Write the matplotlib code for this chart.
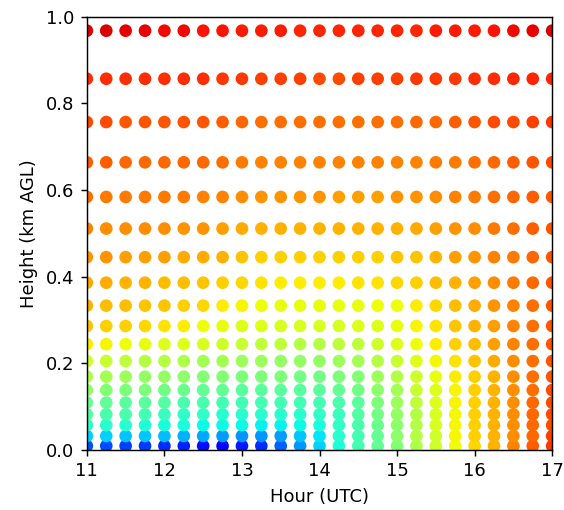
import numpy as np
import matplotlib
matplotlib.use('Agg')
import matplotlib.pyplot as plt

# hours of each profile (UTC)
hours = [11.0, 11.25, 11.5, 11.75, 12.0, 12.25, 12.5, 12.75, 13.0, 13.25, 13.5, 13.75,
         14.0, 14.25, 14.5, 14.75, 15.0, 15.25, 15.5, 15.75, 16.0, 16.25, 16.5, 16.75, 17.0]

# model level heights (km AGL)
heights = [0.009, 0.032, 0.057, 0.082, 0.109, 0.138, 0.169, 0.205, 0.244, 0.286,
           0.333, 0.386, 0.445, 0.511, 0.584, 0.664, 0.757, 0.857, 0.968]

# scaled value at each level (rows, bottom to top) and hour (columns)
values = [
    [0.21, 0.20, 0.19, 0.18, 0.17, 0.16, 0.14, 0.13, 0.15, 0.17, 0.22, 0.27, 0.33, 0.39, 0.43, 0.47, 0.51, 0.56, 0.60, 0.64, 0.68, 0.72, 0.77, 0.81, 0.85],
    [0.33, 0.33, 0.32, 0.32, 0.31, 0.30, 0.29, 0.28, 0.27, 0.27, 0.28, 0.32, 0.35, 0.40, 0.43, 0.47, 0.52, 0.57, 0.60, 0.645, 0.69, 0.72, 0.76, 0.80, 0.84],
    [0.41, 0.40, 0.40, 0.39, 0.38, 0.38, 0.37, 0.37, 0.37, 0.36, 0.36, 0.37, 0.38, 0.41, 0.44, 0.48, 0.52, 0.57, 0.61, 0.645, 0.69, 0.72, 0.76, 0.80, 0.83],
    [0.45, 0.44, 0.44, 0.43, 0.42, 0.41, 0.41, 0.40, 0.40, 0.40, 0.40, 0.40, 0.41, 0.42, 0.45, 0.49, 0.53, 0.57, 0.61, 0.645, 0.69, 0.72, 0.76, 0.80, 0.83],
    [0.48, 0.47, 0.46, 0.46, 0.45, 0.44, 0.44, 0.43, 0.43, 0.43, 0.43, 0.43, 0.43, 0.44, 0.46, 0.50, 0.54, 0.58, 0.62, 0.65, 0.69, 0.72, 0.76, 0.80, 0.83],
    [0.52, 0.51, 0.50, 0.50, 0.49, 0.48, 0.47, 0.47, 0.46, 0.46, 0.46, 0.46, 0.46, 0.47, 0.49, 0.52, 0.55, 0.59, 0.62, 0.65, 0.69, 0.72, 0.76, 0.79, 0.83],
    [0.56, 0.55, 0.54, 0.53, 0.53, 0.52, 0.51, 0.51, 0.50, 0.50, 0.50, 0.49, 0.49, 0.50, 0.51, 0.54, 0.57, 0.60, 0.63, 0.66, 0.69, 0.72, 0.76, 0.79, 0.82],
    [0.60, 0.59, 0.58, 0.57, 0.57, 0.56, 0.55, 0.55, 0.54, 0.54, 0.53, 0.53, 0.53, 0.54, 0.55, 0.57, 0.59, 0.62, 0.645, 0.67, 0.70, 0.73, 0.76, 0.79, 0.82],
    [0.66, 0.65, 0.64, 0.63, 0.62, 0.62, 0.61, 0.60, 0.59, 0.58, 0.58, 0.57, 0.57, 0.58, 0.58, 0.60, 0.62, 0.64, 0.66, 0.69, 0.71, 0.74, 0.77, 0.79, 0.82],
    [0.70, 0.69, 0.69, 0.68, 0.67, 0.66, 0.64, 0.63, 0.62, 0.62, 0.61, 0.61, 0.61, 0.61, 0.62, 0.62, 0.63, 0.65, 0.67, 0.70, 0.72, 0.74, 0.77, 0.79, 0.82],
    [0.72, 0.71, 0.71, 0.70, 0.70, 0.69, 0.68, 0.66, 0.65, 0.64, 0.63, 0.63, 0.63, 0.63, 0.63, 0.64, 0.64, 0.66, 0.68, 0.71, 0.73, 0.75, 0.77, 0.79, 0.82],
    [0.73, 0.73, 0.72, 0.72, 0.71, 0.71, 0.70, 0.69, 0.68, 0.67, 0.66, 0.66, 0.66, 0.66, 0.67, 0.67, 0.68, 0.69, 0.71, 0.72, 0.74, 0.76, 0.78, 0.80, 0.82],
    [0.75, 0.75, 0.74, 0.74, 0.74, 0.73, 0.73, 0.72, 0.70, 0.69, 0.69, 0.69, 0.69, 0.69, 0.69, 0.69, 0.70, 0.70, 0.72, 0.74, 0.75, 0.77, 0.78, 0.80, 0.82],
    [0.77, 0.76, 0.76, 0.76, 0.76, 0.75, 0.75, 0.74, 0.73, 0.72, 0.72, 0.72, 0.72, 0.72, 0.72, 0.72, 0.72, 0.73, 0.74, 0.75, 0.76, 0.78, 0.79, 0.81, 0.82],
    [0.79, 0.78, 0.78, 0.78, 0.78, 0.78, 0.77, 0.77, 0.76, 0.75, 0.75, 0.75, 0.75, 0.74, 0.74, 0.74, 0.75, 0.75, 0.76, 0.77, 0.78, 0.79, 0.80, 0.81, 0.82],
    [0.81, 0.81, 0.80, 0.80, 0.80, 0.80, 0.80, 0.79, 0.78, 0.77, 0.77, 0.77, 0.77, 0.77, 0.77, 0.77, 0.77, 0.77, 0.78, 0.78, 0.79, 0.80, 0.81, 0.82, 0.83],
    [0.83, 0.83, 0.82, 0.82, 0.82, 0.82, 0.82, 0.81, 0.80, 0.79, 0.79, 0.79, 0.79, 0.79, 0.79, 0.79, 0.79, 0.80, 0.80, 0.81, 0.82, 0.83, 0.83, 0.84, 0.85],
    [0.86, 0.86, 0.86, 0.86, 0.86, 0.86, 0.86, 0.85, 0.85, 0.84, 0.84, 0.84, 0.83, 0.83, 0.84, 0.84, 0.84, 0.85, 0.85, 0.85, 0.86, 0.86, 0.87, 0.87, 0.87],
    [0.92, 0.92, 0.91, 0.91, 0.90, 0.90, 0.89, 0.89, 0.88, 0.88, 0.88, 0.87, 0.87, 0.87, 0.87, 0.87, 0.87, 0.87, 0.88, 0.88, 0.88, 0.89, 0.90, 0.91, 0.92],
]

x, y = np.meshgrid(hours, heights)
c = np.array(values)

fig = plt.figure(figsize=(564 / 130, 510 / 130), dpi=130)
ax = fig.add_axes([0.154, 0.118, 0.825, 0.849])
ax.scatter(x.ravel(), y.ravel(), c=c.ravel(), cmap='jet', vmin=0, vmax=1, s=36)

ax.set_xlim(11, 17)
ax.set_ylim(0, 1)
ax.set_xticks([11, 12, 13, 14, 15, 16, 17])
ax.set_xlabel('Hour (UTC)')
ax.set_ylabel('Height (km AGL)')

fig.savefig('out.png', dpi=130)
